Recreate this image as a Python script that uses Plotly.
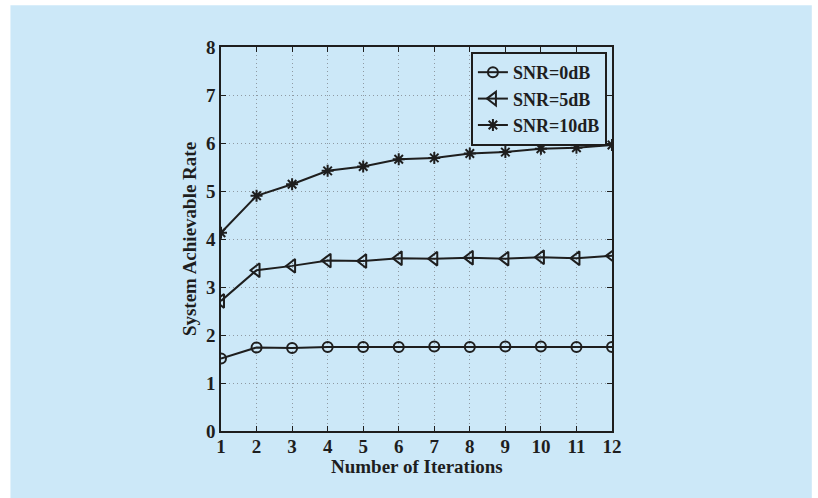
import plotly.graph_objects as go

iterations = list(range(1, 13))
snr0 = [1.51, 1.74, 1.73, 1.75, 1.75, 1.75, 1.76, 1.75, 1.76, 1.76, 1.75, 1.75]
snr5 = [2.71, 3.35, 3.44, 3.55, 3.54, 3.60, 3.59, 3.61, 3.59, 3.62, 3.60, 3.65]
snr10 = [4.13, 4.90, 5.14, 5.42, 5.51, 5.66, 5.69, 5.78, 5.81, 5.88, 5.90, 5.96]
names = ["SNR=0dB", "SNR=5dB", "SNR=10dB"]
x_ticks = list(range(1, 13))
y_ticks = list(range(0, 9))
x_title = "Number of Iterations"
y_title = "System Achievable Rate"

BG = "#cce8f8"
INK = "#1e1e1e"
FONT = "Liberation Serif, Times New Roman, serif"

fig = go.Figure()
series = [(snr0, "circle-open", 10), (snr5, "triangle-left-open", 12), (snr10, "asterisk-open", 10)]
for (vals, sym, sz), nm in zip(series, names):
    fig.add_trace(go.Scatter(
        x=iterations, y=vals, name=nm, mode="lines+markers",
        line=dict(color=INK, width=2),
        marker=dict(symbol=sym, size=sz, color=INK, line=dict(color=INK, width=2)),
    ))

fig.add_shape(type="rect", xref="paper", yref="paper",
              x0=-0.5385, x1=1.511, y0=-0.1743, y1=1.1085,
              fillcolor=BG, line=dict(width=0), layer="below")

axis_common = dict(
    showline=True, linecolor=INK, linewidth=1.5, mirror="ticks",
    ticks="inside", ticklen=5, tickcolor=INK, tickwidth=1,
    showgrid=True, gridcolor="#8f9aa3", griddash="1px,3px", gridwidth=1,
    zeroline=False,
    tickfont=dict(family=FONT, size=19, color=INK, weight="bold"),
)

fig.update_xaxes(range=[1, 12], tickvals=x_ticks, ticktext=[str(v) for v in x_ticks],
                 ticklabelstandoff=-3, **axis_common)
fig.update_yaxes(range=[0, 8], tickvals=y_ticks, ticktext=[str(v) for v in y_ticks],
                 title=dict(text="<b>" + y_title + "</b>", standoff=4,
                            font=dict(family=FONT, size=19, color=INK)),
                 **axis_common)

fig.add_annotation(text="<b>" + x_title + "</b>", xref="paper", yref="paper",
                   x=0.5, y=-0.0937, xanchor="center", yanchor="middle",
                   showarrow=False, font=dict(family=FONT, size=19, color=INK))

fig.update_layout(
    width=818, height=498,
    margin=dict(l=221, r=206, t=47, b=67),
    paper_bgcolor="white", plot_bgcolor="rgba(0,0,0,0)",
    showlegend=True,
    legend=dict(x=0.987, y=0.987, xanchor="right", yanchor="top",
                bgcolor=BG, bordercolor=INK, borderwidth=2,
                font=dict(family=FONT, size=18, color=INK, weight="bold"),
                itemwidth=30, tracegroupgap=0),
)

fig.write_html("out.html", config={"displayModeBar": False},
               post_script="document.body.style.margin='0';document.body.style.overflow='hidden';")
